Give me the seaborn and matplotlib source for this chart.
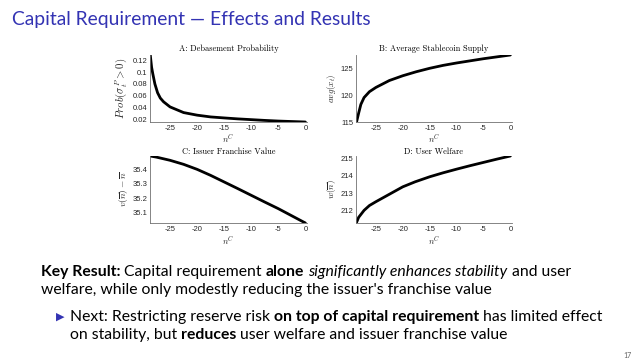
import matplotlib
matplotlib.use("Agg")
import matplotlib.pyplot as plt
from matplotlib.lines import Line2D
import seaborn as sns

# ─────────────────────────────────────────────────────────────────────────────
# DATA
# ─────────────────────────────────────────────────────────────────────────────
x_prob = [-28.65, -28.4, -28.2, -27.8, -27.3, -26.8, -26.2, -25, -22.5, -20,
          -17.5, -15, -12.5, -10, -7.5, -5, -2.5, 0]
y_prob = [0.129, 0.108, 0.098, 0.080, 0.065, 0.056, 0.0497, 0.041, 0.0314, 0.027,
          0.024, 0.0223, 0.0207, 0.0194, 0.0181, 0.017, 0.0162, 0.0154]

x_supply = [-28.6, -28.2, -27.8, -27.2, -26.2, -25, -22.5, -20, -17.5, -15,
            -12.5, -10, -7.5, -5, -2.5, 0]
y_supply = [115.0, 116.7, 118.3, 119.6, 120.7, 121.5, 122.8, 123.7, 124.45, 125.1,
            125.65, 126.1, 126.5, 126.9, 127.25, 127.6]

x_franchise = [-28.65, -27.5, -25, -22.5, -20, -17.5, -15, -12.5, -10, -7.5, -5, -2.5, 0]
y_franchise = [35.493, 35.485, 35.463, 35.435, 35.40, 35.358, 35.312, 35.266,
               35.219, 35.172, 35.126, 35.076, 35.026]

x_welfare = [-28.65, -28.2, -27.2, -26.2, -25, -22.5, -20, -17.7, -15, -12.5,
             -10, -7.5, -5, -2.5, 0]
y_welfare = [211.27, 211.6, 212.0, 212.28, 212.5, 212.93, 213.36, 213.65, 213.94,
             214.17, 214.38, 214.58, 214.77, 214.96, 215.14]

x_ticks = [-25, -20, -15, -10, -5, 0]
panel_titles = ["A: Debasement Probability", "B: Average Stablecoin Supply",
                "C: Issuer Franchise Value", "D: User Welfare"]
y_labels = [r"$Prob(\sigma^P_t > 0)$", r"$avg(x_t)$",
            r"$v(\overline{n}) - \overline{n}$", r"$w(\overline{n})$"]
y_ticks = [[0.02, 0.04, 0.06, 0.08, 0.1, 0.12], [115, 120, 125],
           [35.1, 35.2, 35.3, 35.4], [212, 213, 214, 215]]

SLIDE_TITLE = "Capital Requirement — Effects and Results"
BLUE = "#3333b3"
INK = "#262626"

# ─────────────────────────────────────────────────────────────────────────────
# FIGURE
# ─────────────────────────────────────────────────────────────────────────────
sns.set_theme(style="white")
plt.rcParams["mathtext.fontset"] = "cm"
plt.rcParams["axes.unicode_minus"] = False
plt.rcParams["font.family"] = ["Lato", "DejaVu Sans"]

W, H = 640, 361
fig = plt.figure(figsize=(6.4, 3.61), dpi=100)
fig.patch.set_facecolor("white")


def px_axes(left, right, top, bottom):
    return fig.add_axes([left / W, 1 - bottom / H, (right - left) / W, (bottom - top) / H])


boxes = [(150, 307, 55, 122), (356, 512, 55, 122),
         (150, 307, 156, 223), (356, 512, 156, 223)]
series = [(x_prob, y_prob), (x_supply, y_supply),
          (x_franchise, y_franchise), (x_welfare, y_welfare)]
ylabel_sizes = [7.8, 6.5, 6.8, 6.5]
title_pads = [3, 3, 1.5, 1.5]
xlabel_pads = [0.3, 0.3, 1.5, 1.5]

axes = []
for i, (box, (xs, ys)) in enumerate(zip(boxes, series)):
    ax = px_axes(*box)
    sns.lineplot(x=xs, y=ys, ax=ax, color="black", linewidth=2.0)
    ax.set_xlim(-28.7, 0.3)
    ax.set_ylim(min(ys), max(ys))
    ax.set_xticks(x_ticks)
    ax.set_yticks(y_ticks[i])
    ax.set_yticklabels([f"{v:g}" for v in y_ticks[i]])
    for side in ("top", "right"):
        ax.spines[side].set_visible(False)
    for side in ("left", "bottom"):
        ax.spines[side].set_color("#707070")
        ax.spines[side].set_linewidth(0.6)
    ax.tick_params(direction="in", length=2, width=0.5, labelsize=5.5,
                   colors="#707070", labelcolor=INK, pad=2)
    for lab in ax.get_xticklabels() + ax.get_yticklabels():
        lab.set_fontfamily("Liberation Sans")
    ax.set_title(panel_titles[i], fontsize=6, fontfamily="cmr10", pad=title_pads[i],
                 color="black")
    ax.set_ylabel(y_labels[i], fontsize=ylabel_sizes[i], color=INK, labelpad=2)
    ax.set_xlabel(r"$n^C$", fontsize=6.2, color=INK, labelpad=xlabel_pads[i])
    ax.set_facecolor("white")
    axes.append(ax)

# ─────────────────────────────────────────────────────────────────────────────
# SLIDE TEXT
# ─────────────────────────────────────────────────────────────────────────────
fig.text(12 / W, 1 - 20 / H, SLIDE_TITLE, fontsize=13.9, color=BLUE, va="center", ha="left")

renderer = fig.canvas.get_renderer()

# underline the n of the x label (mathtext has no \underline)
for ax in axes:
    bb = ax.xaxis.label.get_window_extent(renderer)
    fig.add_artist(Line2D([bb.x0 + 0.5, bb.x0 + 0.55 * bb.width], [bb.y0 + 0.5] * 2,
                          transform=None, color=INK, linewidth=0.5))


def rich_line(x_px, y_px, parts, size=11.3):
    probe_a = fig.text(0, 0, "x x", fontsize=size)
    probe_b = fig.text(0, 0, "xx", fontsize=size)
    space = (probe_a.get_window_extent(renderer).width
             - probe_b.get_window_extent(renderer).width)
    probe_a.remove(); probe_b.remove()
    x = x_px
    for s, weight, style in parts:
        t = fig.text(x / W, 1 - y_px / H, s, fontsize=size, weight=weight, style=style,
                     color="black", va="baseline", ha="left")
        x += t.get_window_extent(renderer).width + space


rich_line(41, 276, [("Key Result:", "bold", "normal"),
                    ("Capital requirement", "normal", "normal"),
                    ("alone", "bold", "normal"),
                    ("significantly enhances stability", "normal", "italic"),
                    ("and user", "normal", "normal")])
rich_line(41, 294, [("welfare, while only modestly reducing the issuer's franchise value",
                     "normal", "normal")])
fig.text(56 / W, 1 - 317 / H, "▶", fontsize=8, color=BLUE, va="center", ha="left",
         fontfamily="DejaVu Sans")
rich_line(70, 321, [("Next: Restricting reserve risk", "normal", "normal"),
                    ("on top of capital requirement", "bold", "normal"),
                    ("has limited effect", "normal", "normal")])
rich_line(70, 339, [("on stability, but", "normal", "normal"),
                    ("reduces", "bold", "normal"),
                    ("user welfare and issuer franchise value", "normal", "normal")])
fig.text(632 / W, 1 - 355 / H, "17", fontsize=5, color="#606060", va="center", ha="right")

fig.savefig("out.png", dpi=100, facecolor="white")
